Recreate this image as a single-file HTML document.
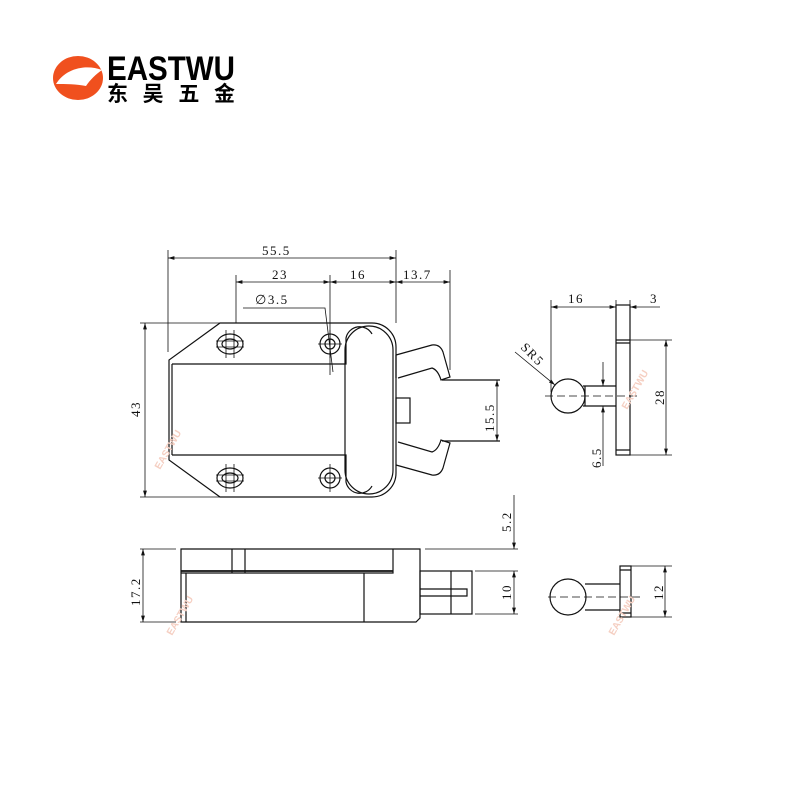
<!DOCTYPE html>
<html><head><meta charset="utf-8"><style>
html,body{margin:0;padding:0;background:#fff;width:800px;height:800px;overflow:hidden}
svg{display:block}
text{font-family:"Liberation Serif",serif;font-size:13px;fill:#111;letter-spacing:1.5px}
</style></head><body>
<svg width="800" height="800" viewBox="0 0 800 800" xmlns="http://www.w3.org/2000/svg">
<defs>
<marker id="a" viewBox="0 0 10 10" refX="10" refY="5" markerWidth="8" markerHeight="8" orient="auto-start-reverse"><path d="M0,2 L10,5 L0,8 z" fill="#111"/></marker>
</defs>
<!-- logo -->
<ellipse cx="78" cy="78" rx="25" ry="22" fill="#f0501e"/>
<path d="M56,84 C66,68 86,64 102,70 C96,74 90,80 86,86 C76,84 66,84 56,84 z" fill="#fff"/>
<path d="M58,88 C70,88 82,90 88,94" stroke="#fff" stroke-width="0" fill="none"/>
<text x="107" y="80" style="font-family:'Liberation Sans',sans-serif;font-weight:bold;font-size:34px;fill:#000;letter-spacing:0" textLength="128" lengthAdjust="spacingAndGlyphs">EASTWU</text>
<text x="107" y="101" style="font-family:'Liberation Sans','Noto Sans CJK SC',sans-serif;font-weight:bold;font-size:21px;fill:#000;letter-spacing:0" textLength="128" lengthAdjust="spacing">东吴五金</text>

<g fill="none" stroke="#111" stroke-width="1.2">
<path d="M220,323 L372,323 A24,24 0 0 1 396,347 L396,473 A24,24 0 0 1 372,497 L220,497 L169,460 L169,360 Z"/>
<path d="M172,364 L346,364 L346,338 A14,14 0 0 1 372,334"/>
<path d="M172,455 L346,455 L346,482 A14,14 0 0 0 372,486"/>
<path d="M172,364 L172,455"/>
<rect x="345" y="326" width="48" height="168" rx="24"/>
<ellipse cx="230" cy="344" rx="13" ry="10"/><ellipse cx="230" cy="344" rx="8" ry="5"/>
<ellipse cx="230" cy="478" rx="13" ry="10"/><ellipse cx="230" cy="478" rx="8" ry="5"/>
<circle cx="330" cy="344" r="10"/><circle cx="330" cy="344" r="5"/>
<circle cx="330" cy="478" r="10"/><circle cx="330" cy="478" r="5"/>
<path d="M226,330 V358 M234,330 V358 M216,341 H244 M216,347 H244 M226,464 V492 M234,464 V492 M216,475 H244 M216,481 H244 M330,330 V358 M318,344 H342 M330,464 V492 M318,478 H342" stroke-width="0.8"/>
<!-- jaws -->
<path d="M396,355 L432,345 Q440,344 443,352 L450,377 L441,380 Q438,370 432,368 L398,378 M396,355 L396,378"/>
<path d="M396,465 L432,475 Q440,476 443,468 L450,443 L441,440 Q438,450 432,452 L398,442"/>
<path d="M442,380 H500 M442,441 H500"/>
<rect x="396" y="398" width="14" height="25"/>
<path d="M168,250 V352 M396,250 V323 M236,275 V323 M330,275 V375 M450,270 V370" stroke-width="0.8"/>
<path d="M168,258 H396" marker-start="url(#a)" marker-end="url(#a)" stroke-width="0.8"/>
<path d="M236,282 H330" marker-start="url(#a)" marker-end="url(#a)" stroke-width="0.8"/>
<path d="M330,282 H396" marker-start="url(#a)" marker-end="url(#a)" stroke-width="0.8"/>
<path d="M396,282 H450" marker-start="url(#a)" marker-end="url(#a)" stroke-width="0.8"/>
<path d="M243,308 H325 L333,372" stroke-width="0.8"/>
<path d="M140,323 H220 M140,497 H220" stroke-width="0.8"/>
<path d="M145,323 V497" marker-start="url(#a)" marker-end="url(#a)" stroke-width="0.8"/>
<path d="M497,380 V441" marker-start="url(#a)" marker-end="url(#a)" stroke-width="0.8"/>
<!-- side view -->
<circle cx="568" cy="396" r="17"/>
<path d="M583,386 H616 M583,406 H616 M585,386 V406"/>
<rect x="616" y="305" width="14" height="150"/>
<path d="M616,340 H630 M616,343 H630 M616,450 H630"/>
<path d="M545,396 H640" stroke-dasharray="8,4" stroke-width="0.8"/>
<path d="M551,300 V392 M616,300 V305 M630,300 V305 M630,340 H672 M630,455 H672" stroke-width="0.8"/>
<path d="M551,307 H616" marker-start="url(#a)" marker-end="url(#a)" stroke-width="0.8"/>
<path d="M660,307 H630" marker-end="url(#a)" stroke-width="0.8"/>
<path d="M666,340 V455" marker-start="url(#a)" marker-end="url(#a)" stroke-width="0.8"/>
<path d="M603,362 V386" marker-end="url(#a)" stroke-width="0.8"/>
<path d="M603,466 V406" marker-end="url(#a)" stroke-width="0.8"/>
<path d="M515,352 L555,385" marker-end="url(#a)" stroke-width="0.8"/>
<!-- bottom view -->
<path d="M181,549 H420 V618 L416,622 H181 Z"/>
<path d="M181,573 H393 V549"/>
<path d="M181,571 H393" stroke-width="1.8"/>
<path d="M232,549 V573 M245,549 V573 M186,573 V622 M364,573 V622"/>
<rect x="420" y="571" width="52" height="43"/>
<path d="M451,571 V614 M420,589 H467 V596 H420"/>
<path d="M140,549 H176 M140,622 H176 M425,549 H518 M475,571 H518 M475,614 H518" stroke-width="0.8"/>
<path d="M143,549 V622" marker-start="url(#a)" marker-end="url(#a)" stroke-width="0.8"/>
<path d="M514,495 V549" marker-end="url(#a)" stroke-width="0.8"/>
<path d="M514,571 V614" marker-start="url(#a)" marker-end="url(#a)" stroke-width="0.8"/>
<circle cx="568" cy="597" r="18"/>
<path d="M585,584 H620 M585,610 H620"/>
<rect x="620" y="566" width="11" height="51"/>
<path d="M620,570 H631 M620,613 H631"/>
<path d="M548,597 H640" stroke-dasharray="8,4" stroke-width="0.8"/>
<path d="M631,566 H672 M631,617 H672" stroke-width="0.8"/>
<path d="M665,566 V617" marker-start="url(#a)" marker-end="url(#a)" stroke-width="0.8"/>
</g>
<text x="262" y="255">55.5</text>
<text x="272" y="279">23</text>
<text x="350" y="279">16</text>
<text x="403" y="279">13.7</text>
<text x="255" y="304">∅3.5</text>
<text x="140" y="417" transform="rotate(-90 140 417)">43</text>
<text x="494" y="432" transform="rotate(-90 494 432)">15.5</text>
<text x="568" y="303">16</text>
<text x="650" y="303">3</text>
<text x="520" y="348" transform="rotate(45 520 348)">SR5</text>
<text x="664" y="405" transform="rotate(-90 664 405)">28</text>
<text x="601" y="468" transform="rotate(-90 601 468)">6.5</text>
<text x="140" y="606" transform="rotate(-90 140 606)">17.2</text>
<text x="511" y="532" transform="rotate(-90 511 532)">5.2</text>
<text x="511" y="600" transform="rotate(-90 511 600)">10</text>
<text x="663" y="600" transform="rotate(-90 663 600)">12</text>
<g style="font-family:'Liberation Sans',sans-serif;font-weight:bold;font-size:10px">
<text x="160" y="470" transform="rotate(-60 160 470)" style="fill:#f5cfc2;font-family:'Liberation Sans',sans-serif;font-weight:bold;font-size:10px;letter-spacing:0">EASTWU</text>
<text x="627" y="410" transform="rotate(-60 627 410)" style="fill:#f5cfc2;font-family:'Liberation Sans',sans-serif;font-weight:bold;font-size:10px;letter-spacing:0">EASTWU</text>
<text x="172" y="636" transform="rotate(-60 172 636)" style="fill:#f5cfc2;font-family:'Liberation Sans',sans-serif;font-weight:bold;font-size:10px;letter-spacing:0">EASTWU</text>
<text x="614" y="636" transform="rotate(-60 614 636)" style="fill:#f5cfc2;font-family:'Liberation Sans',sans-serif;font-weight:bold;font-size:10px;letter-spacing:0">EASTWU</text>
</g>
</svg>
</body></html>
